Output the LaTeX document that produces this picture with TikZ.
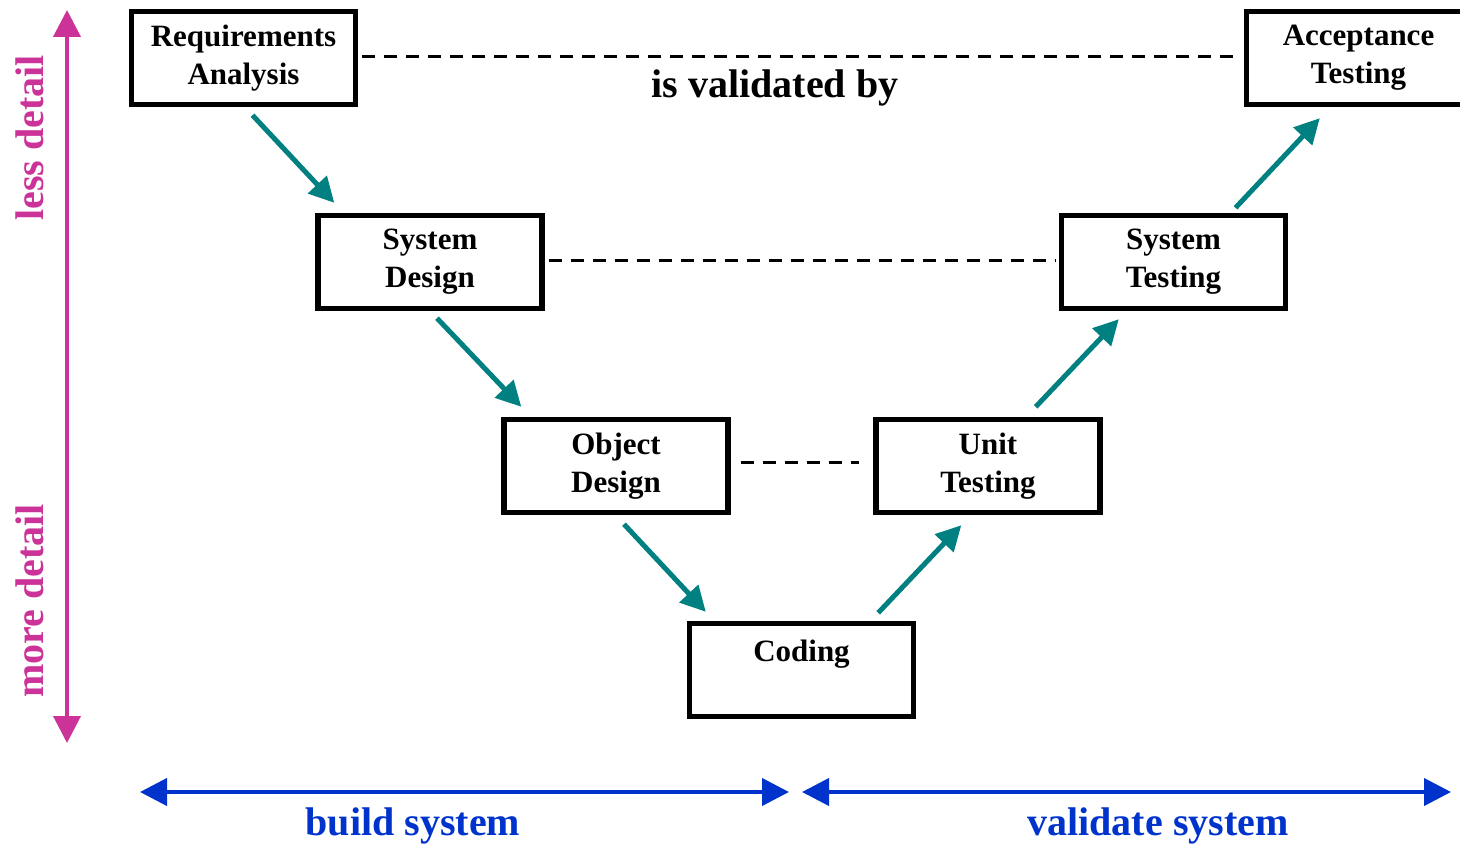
\documentclass[tikz,border=0pt]{standalone}
\usepackage{fontspec}
\setmainfont{Liberation Serif}
\usepackage{tikz}
\usetikzlibrary{arrows.meta}
\usetikzlibrary{calc}

\definecolor{vteal}{RGB}{0,128,128}
\definecolor{vmagenta}{RGB}{204,51,153}
\definecolor{vblue}{RGB}{0,51,204}

\begin{document}
\begin{tikzpicture}[x=0.5pt,y=-0.5pt]

\tikzstyle{every node}=[font=\bfseries]
\tikzstyle{phasebox}=[draw, line width=2.7pt, minimum width=112pt, minimum height=46.5pt, align=center, font=\fontsize{15.5}{19}\selectfont\bfseries]
\tikzstyle{flowarrow}=[-{Triangle[length=12.5pt,width=12.5pt]}, line width=2.5pt, vteal]
\tikzstyle{validline}=[line width=1.5pt, dash pattern=on 6.5pt off 4.5pt]
\tikzstyle{sidearrow}=[{Triangle[length=13.5pt,width=13.5pt]}-{Triangle[length=13.5pt,width=13.5pt]}, line width=2pt]
\tikzstyle{biglabel}=[font=\fontsize{20}{24}\selectfont\bfseries]

\useasboundingbox (0,0) rectangle (1460,845);

% left side
\node [phasebox] (req) at (243.5,58) {Requirements\\Analysis};
\node [phasebox] (sysdes) at (430,262) {System\\Design};
\node [phasebox] (objdes) at (616,466) {Object\\Design};

% bottom
\node [phasebox] (coding) at (801.5,670) {Coding\\~};

% right side
\node [phasebox] (unit) at (988,466) {Unit\\Testing};
\node [phasebox] (systest) at (1173.5,262) {System\\Testing};
\node [phasebox] (acc) at (1358.5,58) {Acceptance\\Testing};

% is validated by
\draw[validline] ($(req.east)+(4,-1)$) -- ($(acc.west)+(-4,-1)$);
\node [biglabel] (valid) at (775,88) {is validated by};
\draw[validline] ($(sysdes.east)+(4,-2)$) -- ($(systest.west)+(-4,-2)$);
\draw[validline] ($(objdes.east)+(10,-4)$) -- ($(unit.west)+(-14,-4)$);

% down
\draw[flowarrow] ($(req.south)+(9,8)$) -- ($(sysdes.north west)+(19,-10)$);
\draw[flowarrow] ($(sysdes.south)+(7,7)$) -- ($(objdes.north west)+(20,-10)$);
\draw[flowarrow] ($(objdes.south)+(8,9)$) -- ($(coding.north west)+(19,-9)$);

% up
\draw[flowarrow] ($(coding.north east)+(-38,-8)$) -- ($(unit.south west)+(88,10)$);
\draw[flowarrow] ($(unit.north east)+(-67,-10)$) -- ($(systest.south west)+(60,8)$);
\draw[flowarrow] ($(systest.north)+(62,-5)$) -- ($(acc.south west)+(76,11)$);

% detail
\coordinate (less) at (67,10);
\coordinate (more) at (67,743);
\draw[sidearrow, vmagenta] (less) -- (more);
\node [biglabel, vmagenta, rotate=90] (lesstext) at (30,138) {less detail};
\node [biglabel, vmagenta, rotate=90] (moretext) at (30,601) {more detail};

% build / validate
\coordinate (buildl) at (140,792);
\coordinate (buildr) at (789,792);
\coordinate (validl) at (802,792);
\coordinate (validr) at (1451,792);
\draw[sidearrow, vblue] (buildl) -- (buildr);
\draw[sidearrow, vblue] (validl) -- (validr);
\node [biglabel, vblue] (buildtext) at (413,826) {build system};
\node [biglabel, vblue] (validtext) at (1158,826) {validate system};

\end{tikzpicture}
\end{document}
